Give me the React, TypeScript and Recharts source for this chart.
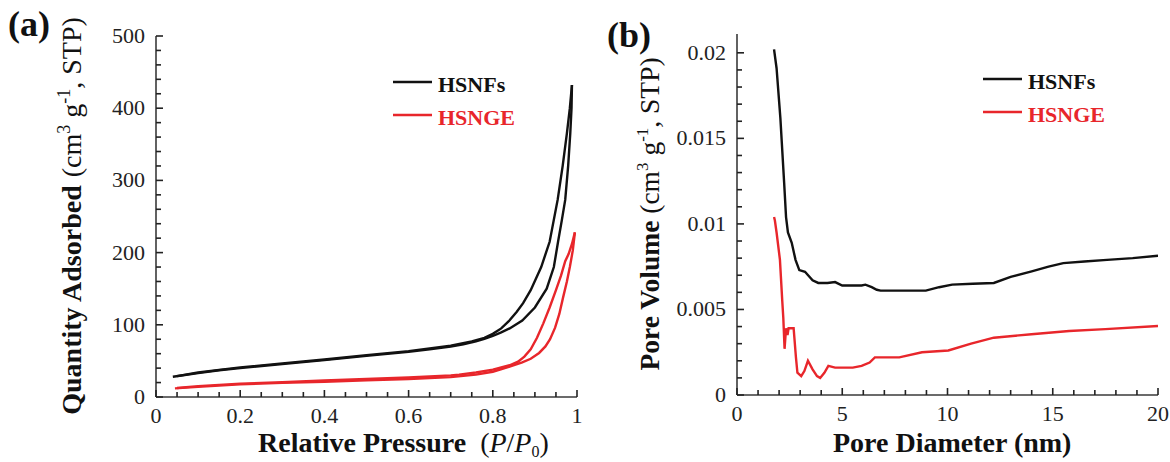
import { LineChart, Line, XAxis, YAxis, Legend } from 'recharts'

const FONT = '"Liberation Serif", "Times New Roman", serif'
const INK = '#111111'
const RED = '#e8262b'
const AXIS = '#3a3a3a'

// (a) N2 isotherms: [P/P0, quantity adsorbed]
const hsnfsAds = [
  [0.04, 28], [0.1, 33], [0.15, 37], [0.2, 40], [0.3, 45.5], [0.4, 51], [0.5, 57],
  [0.6, 62.5], [0.65, 66], [0.7, 70], [0.73, 73], [0.76, 77], [0.78, 80.5], [0.8, 84.5],
  [0.82, 89.5], [0.84, 95], [0.87, 106], [0.9, 124], [0.928, 150], [0.945, 180],
  [0.955, 215], [0.964, 245], [0.972, 273], [0.979, 320], [0.984, 365], [0.987, 400],
  [0.988, 432]
]
const hsnfsDes = [
  [0.988, 432], [0.983, 400], [0.976, 365], [0.966, 320], [0.954, 273], [0.935, 215],
  [0.915, 180], [0.89, 148], [0.872, 130], [0.857, 118], [0.838, 105], [0.82, 95],
  [0.8, 87.5], [0.78, 82], [0.75, 77], [0.7, 71], [0.6, 63.5], [0.5, 58], [0.4, 52],
  [0.3, 46.5], [0.2, 41], [0.1, 34], [0.05, 29]
]
const hsngeAds = [
  [0.045, 12], [0.1, 14], [0.2, 17.5], [0.3, 19.5], [0.4, 21], [0.5, 23], [0.6, 25],
  [0.7, 27.5], [0.76, 31], [0.8, 35], [0.84, 42], [0.87, 48], [0.89, 53], [0.91, 61],
  [0.925, 70], [0.936, 80], [0.948, 96], [0.958, 115], [0.967, 138], [0.976, 160],
  [0.983, 180], [0.99, 203], [0.995, 228]
]
const hsngeDes = [
  [0.995, 228], [0.988, 212], [0.98, 198], [0.972, 188], [0.962, 168], [0.95, 148],
  [0.935, 124], [0.92, 102], [0.905, 82], [0.89, 66], [0.875, 56], [0.86, 49],
  [0.84, 44], [0.8, 38], [0.76, 34], [0.72, 31], [0.7, 30], [0.6, 27], [0.5, 25],
  [0.4, 23], [0.3, 20.5], [0.2, 18.5], [0.1, 15], [0.05, 12.5]
]

// (b) BJH pore size distribution: [pore diameter nm, pore volume]
const hsnfsPore = [
  [1.76, 0.0202], [1.88, 0.0191], [2.06, 0.0162], [2.24, 0.0124], [2.33, 0.0104],
  [2.42, 0.0095], [2.6, 0.0089], [2.78, 0.0079], [2.96, 0.0073], [3.23, 0.0072],
  [3.59, 0.0067], [3.86, 0.00655], [4.3, 0.00655], [4.66, 0.0066], [5.0, 0.0064],
  [5.4, 0.0064], [5.92, 0.0064], [6.1, 0.00645], [6.4, 0.0063], [6.64, 0.00615],
  [6.82, 0.0061], [8.0, 0.0061], [8.97, 0.0061], [9.6, 0.0063], [10.22, 0.00645],
  [11.2, 0.0065], [12.2, 0.00655], [13.0, 0.0069], [14.0, 0.00723], [14.8, 0.0075],
  [15.5, 0.00771], [16.5, 0.0078], [17.58, 0.0079], [18.8, 0.008], [20, 0.00814]
]
const hsngePore = [
  [1.76, 0.0104], [1.8, 0.0102], [1.88, 0.0095], [2.04, 0.0079], [2.15, 0.0055],
  [2.2, 0.0045], [2.26, 0.0027], [2.33, 0.0039], [2.4, 0.0035], [2.45, 0.0039],
  [2.69, 0.0039], [2.8, 0.0022], [2.87, 0.0013], [3.05, 0.0011], [3.2, 0.0014],
  [3.37, 0.002], [3.59, 0.0015], [3.8, 0.0011], [3.95, 0.001], [4.15, 0.0013],
  [4.34, 0.0017], [4.66, 0.0016], [5.5, 0.0016], [5.92, 0.0017], [6.3, 0.0019],
  [6.55, 0.0022], [7.71, 0.0022], [8.79, 0.0025], [10.04, 0.0026], [11.12, 0.003],
  [12.2, 0.00335], [13.99, 0.00355], [15.78, 0.00374], [17.5, 0.00385], [20, 0.00403]
]

// ticks (minor + major), majors get labels
const pTicks = [0, 0.05, 0.1, 0.15, 0.2, 0.25, 0.3, 0.35, 0.4, 0.45, 0.5, 0.55, 0.6, 0.65, 0.7, 0.75, 0.8, 0.85, 0.9, 0.95, 1]
const pLabels: Record<string, string> = { '0': '0', '0.2': '0.2', '0.4': '0.4', '0.6': '0.6', '0.8': '0.8', '1': '1' }
const qTicks = [0, 20, 40, 60, 80, 100, 120, 140, 160, 180, 200, 220, 240, 260, 280, 300, 320, 340, 360, 380, 400, 420, 440, 460, 480, 500]
const qLabels: Record<string, string> = { '0': '0', '100': '100', '200': '200', '300': '300', '400': '400', '500': '500' }
const dTicks = [0, 1, 2, 3, 4, 5, 6, 7, 8, 9, 10, 11, 12, 13, 14, 15, 16, 17, 18, 19, 20]
const dLabels: Record<string, string> = { '0': '0', '5': '5', '10': '10', '15': '15', '20': '20' }
const vTicks = [0, 0.001, 0.002, 0.003, 0.004, 0.005, 0.006, 0.007, 0.008, 0.009, 0.01, 0.011, 0.012, 0.013, 0.014, 0.015, 0.016, 0.017, 0.018, 0.019, 0.02]
const vLabels: Record<string, string> = { '0': '0', '0.005': '0.005', '0.01': '0.01', '0.015': '0.015', '0.02': '0.02' }

const toXY = (rows: number[][]) => rows.map(([x, y]) => ({ x, y }))

const xTick = (labels: Record<string, string>) => (props: any) => {
  const { x, y, payload } = props
  const lab = labels[String(payload.value)]
  return (
    <g>
      <path d={`M${x},${y}V${y - (lab !== undefined ? 7 : 5)}`} stroke="#222" strokeWidth={1.6} fill="none" />
      {lab !== undefined && (
        <text x={x} y={y + 26} textAnchor="middle" fontFamily={FONT} fontSize={22} fill="#222">{lab}</text>
      )}
    </g>
  )
}

const yTick = (labels: Record<string, string>) => (props: any) => {
  const { x, y, payload } = props
  const lab = labels[String(payload.value)]
  return (
    <g>
      <path d={`M${x},${y}H${x + (lab !== undefined ? 7 : 5)}`} stroke="#222" strokeWidth={1.6} fill="none" />
      {lab !== undefined && (
        <text x={x - 11} y={y + 7} textAnchor="end" fontFamily={FONT} fontSize={22} fill="#222">{lab}</text>
      )}
    </g>
  )
}

const LegendBox = () => (
  <svg width={150} height={70}>
    <line x1={0} x2={39} y1={16} y2={16} stroke={INK} strokeWidth={2.4} />
    <text x={45} y={26} fontFamily={FONT} fontWeight="bold" fontSize={22} fill={INK}>HSNFs</text>
    <line x1={0} x2={39} y1={49} y2={49} stroke={RED} strokeWidth={2.4} />
    <text x={45} y={59} fontFamily={FONT} fontWeight="bold" fontSize={22} fill={RED}>HSNGE</text>
  </svg>
)

const axisLine = { stroke: AXIS, strokeWidth: 1.6 }
const seriesProps = { type: 'linear' as const, strokeWidth: 2.4, dot: false, activeDot: false, isAnimationActive: false }

export default function App() {
  return (
    <div style={{ position: 'absolute', left: 0, top: 0, width: 1170, height: 462, background: '#fff', overflow: 'hidden' }}>
      <div style={{ position: 'absolute', left: 0, top: 0 }}>
        <LineChart width={600} height={462} margin={{ top: 36, right: 23, bottom: 35, left: 96 }}>
          <XAxis type="number" dataKey="x" domain={[0, 1]} ticks={pTicks} interval={0} allowDataOverflow
            tick={xTick(pLabels)} tickLine={false} tickSize={0} tickMargin={0} height={30} axisLine={axisLine} />
          <XAxis xAxisId="top" orientation="top" type="number" domain={[0, 1]} height={0} tick={false} tickLine={false} axisLine={axisLine} />
          <YAxis type="number" domain={[0, 500]} ticks={qTicks} interval={0} allowDataOverflow
            tick={yTick(qLabels)} tickLine={false} tickSize={0} tickMargin={0} width={60} axisLine={axisLine} />
          <YAxis yAxisId="right" orientation="right" type="number" domain={[0, 1]} width={0} tick={false} tickLine={false} axisLine={axisLine} />
          <Line data={toXY(hsnfsAds)} dataKey="y" name="HSNFs" stroke={INK} {...seriesProps} />
          <Line data={toXY(hsnfsDes)} dataKey="y" name="HSNFs desorption" stroke={INK} {...seriesProps} />
          <Line data={toXY(hsngeAds)} dataKey="y" name="HSNGE" stroke={RED} {...seriesProps} />
          <Line data={toXY(hsngeDes)} dataKey="y" name="HSNGE desorption" stroke={RED} {...seriesProps} />
          <Legend layout="vertical" align="center" verticalAlign="middle" content={() => <LegendBox />}
            wrapperStyle={{ position: 'absolute', left: 393, top: 66, width: 150, height: 70 }} />
        </LineChart>
      </div>
      <div style={{ position: 'absolute', left: 580, top: 0 }}>
        <LineChart width={590} height={462} margin={{ top: 34, right: 12, bottom: 37, left: 97 }}>
          <XAxis type="number" dataKey="x" domain={[0, 20]} ticks={dTicks} interval={0} allowDataOverflow
            tick={xTick(dLabels)} tickLine={false} tickSize={0} tickMargin={0} height={30} axisLine={axisLine} />
          <XAxis xAxisId="top" orientation="top" type="number" domain={[0, 1]} height={0} tick={false} tickLine={false} axisLine={axisLine} />
          <YAxis type="number" domain={[0, 0.0211]} ticks={vTicks} interval={0} allowDataOverflow
            tick={yTick(vLabels)} tickLine={false} tickSize={0} tickMargin={0} width={60} axisLine={axisLine} />
          <YAxis yAxisId="right" orientation="right" type="number" domain={[0, 1]} width={0} tick={false} tickLine={false} axisLine={axisLine} />
          <Line data={toXY(hsnfsPore)} dataKey="y" name="HSNFs" stroke={INK} {...seriesProps} />
          <Line data={toXY(hsngePore)} dataKey="y" name="HSNGE" stroke={RED} {...seriesProps} />
          <Legend layout="vertical" align="center" verticalAlign="middle" content={() => <LegendBox />}
            wrapperStyle={{ position: 'absolute', left: 403, top: 63, width: 150, height: 70 }} />
        </LineChart>
      </div>
      <svg width={1170} height={462} style={{ position: 'absolute', left: 0, top: 0, pointerEvents: 'none' }} fontFamily={FONT} fill="#111">
        <text x={8} y={36} fontSize={36} fontWeight="bold">(a)</text>
        <text x={607} y={47} fontSize={36} fontWeight="bold">(b)</text>
        <text transform="translate(81,216) rotate(-90)" textAnchor="middle" fontSize={28}>
          <tspan fontWeight="bold">Quantity Adsorbed</tspan>
          <tspan dx={8}>(cm</tspan>
          <tspan dy={-11} fontSize={18}>3</tspan>
          <tspan dy={11}>{' g'}</tspan>
          <tspan dy={-11} fontSize={18}>-1</tspan>
          <tspan dy={11}>, STP)</tspan>
        </text>
        <text x={258} y={452} fontSize={28}>
          <tspan fontWeight="bold">Relative Pressure</tspan>
          <tspan dx={14}>(</tspan>
          <tspan fontStyle="italic">P</tspan>
          <tspan>/</tspan>
          <tspan fontStyle="italic">P</tspan>
          <tspan dy={5} fontSize={16}>0</tspan>
          <tspan dy={-5}>)</tspan>
        </text>
        <text transform="translate(659,214) rotate(-90)" textAnchor="middle" fontSize={27.5}>
          <tspan fontWeight="bold">Pore Volume</tspan>
          <tspan>{' (cm'}</tspan>
          <tspan dy={-11} fontSize={17}>3</tspan>
          <tspan dy={11}>{' g'}</tspan>
          <tspan dy={-11} fontSize={17}>-1</tspan>
          <tspan dy={11}>, STP)</tspan>
        </text>
        <text x={833} y={452} fontSize={28} fontWeight="bold">Pore Diameter (nm)</text>
      </svg>
    </div>
  )
}
